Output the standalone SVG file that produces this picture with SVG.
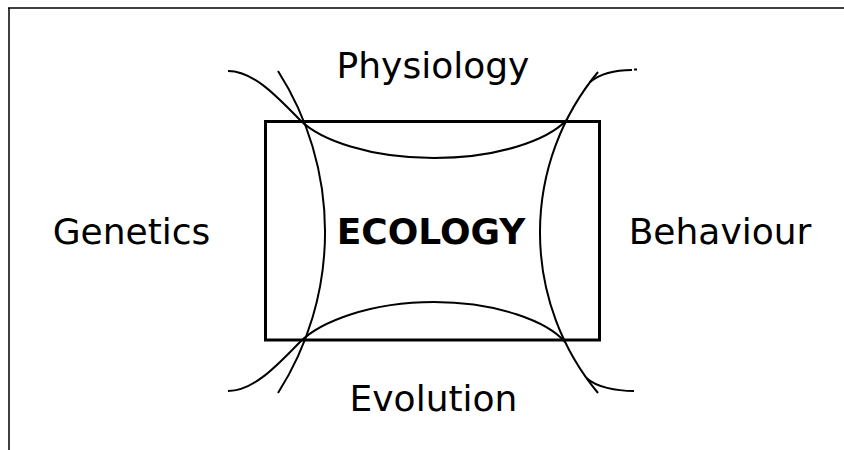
<svg xmlns="http://www.w3.org/2000/svg" width="844" height="450" viewBox="0 0 844 450">
<style>
.lbl{font-family:"DejaVu Sans","Liberation Sans",sans-serif;font-size:36px;fill:#000;text-anchor:middle}
.bold{font-weight:bold}
.curve{fill:none;stroke:#000;stroke-width:2}
.frame{fill:none;stroke:#000;stroke-width:1.5}
</style>
<rect width="844" height="450" fill="#fff"/>
<g id="frame">
<line class="frame" x1="8" y1="8" x2="844" y2="8" stroke="#555"/>
<line class="frame" x1="9" y1="8" x2="9" y2="450"/>
</g>
<g id="connectors">
<path id="physiology-curve" class="curve" d="M228,71 C255,71 280,100 300,120 C320,140 370,158 434,158 C498,158 548,140 566.6,120 M590,82 C600,74 616,70 632,70"/>
<path id="evolution-curve" class="curve" d="M228,391 C255,391 280,362 300,342 C320,322 370,302 434,302 C498,302 548,322 565,342 M586.5,378 C596,387 616,391 634,391"/>
<path id="genetics-curve" class="curve" d="M278,71 A299,299 0 0 1 278,393"/>
<path id="behaviour-curve" class="curve" d="M598,72 A251,251 0 0 0 598,393"/>
<line class="curve" x1="634" y1="69.5" x2="637" y2="69.5"/>
</g>
<g id="ecology">
<rect x="265.5" y="121.5" width="334" height="218.5" fill="none" stroke="#000" stroke-width="3"/>
<text class="lbl bold" x="431" y="244">ECOLOGY</text>
</g>
<g id="physiology"><text class="lbl" x="433" y="78">Physiology</text></g>
<g id="genetics"><text class="lbl" x="131.5" y="244">Genetics</text></g>
<g id="behaviour"><text class="lbl" x="720" y="244">Behaviour</text></g>
<g id="evolution"><text class="lbl" x="433.5" y="411">Evolution</text></g>
</svg>
